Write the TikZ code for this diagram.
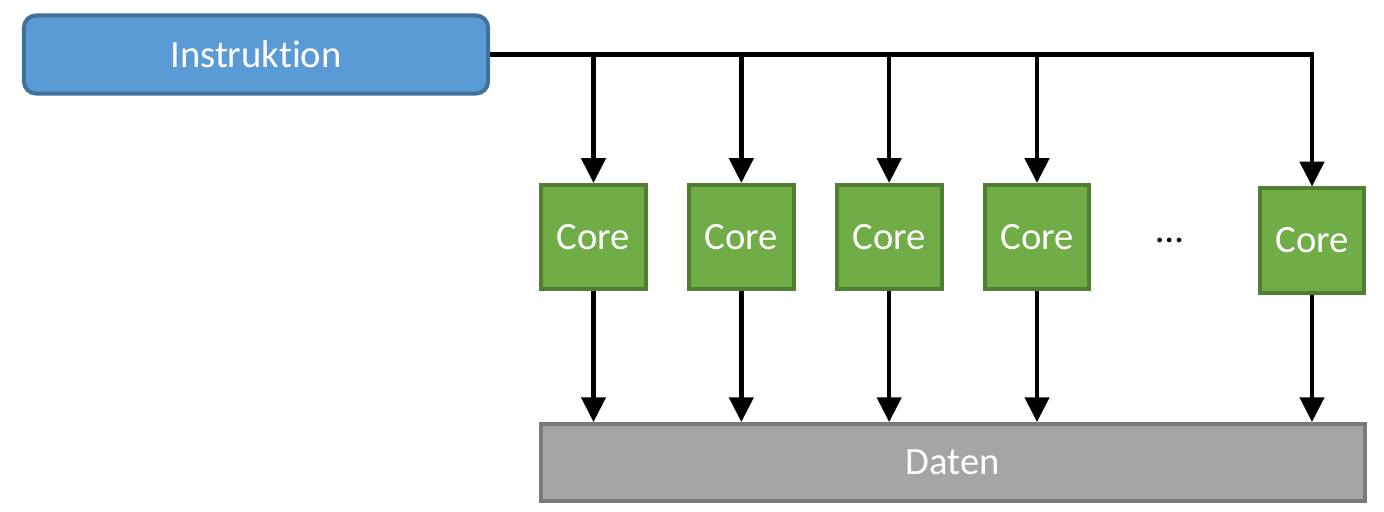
\documentclass[tikz,border=0pt]{standalone}
\usepackage{fontspec}
\setmainfont{Carlito}[Ligatures=NoCommon]
\usepackage{tikz}
\usetikzlibrary{arrows.meta, positioning}
\definecolor{instblue}{HTML}{5B9BD5}
\definecolor{instline}{HTML}{41719C}
\definecolor{coregreen}{HTML}{70AD47}
\definecolor{coreline}{HTML}{507E32}
\definecolor{datagray}{HTML}{A5A5A5}
\definecolor{dataline}{HTML}{7A7A7A}
\tikzstyle{arrow} = [line width=0.11cm,-{Triangle[width=0.6cm,length=0.62cm]}]
\tikzstyle{instr} = [rectangle, rounded corners=0.3cm,
minimum width=11.6cm,
minimum height=1.95cm,
text centered,
line width=0.1cm,
draw=instline,
fill=instblue,
text=white]
\tikzstyle{core} = [rectangle,
minimum width=2.62cm,
minimum height=2.6cm,
line width=0.1cm,
draw=coreline,
fill=coregreen,
text=white]
\tikzstyle{data} = [rectangle,
minimum width=20.6cm,
minimum height=1.92cm,
line width=0.1cm,
draw=dataline,
fill=datagray,
text=white]

\begin{document}
\begin{tikzpicture}[x=0.025cm, y=-0.025cm, node distance=0.975cm,
        font=\fontsize{27.5}{32}\selectfont]
            \useasboundingbox (0,0) rectangle (1384,512);

            \node (instr) [instr] at (256,54.5) {Instruktion};
            \node (c1) [core] at (593.5,237) {Core};
            \node (c2) [core, right=of c1] {Core};
            \node (c3) [core, right=of c2] {Core};
            \node (c4) [core, right=of c3] {Core};
            \node (dots) at (1170,240) {…};
            \node (c6) [core] at (1312,240.5) {Core};
            \node (data) [data] at (953,462.5) {Daten};

            % instruction bus
            \draw [arrow] (instr.east) -| (c6);
            \draw [arrow] (c1 |- instr.east) -- (c1);
            \draw [arrow] (c2 |- instr.east) -- (c2);
            \draw [arrow] (c3 |- instr.east) -- (c3);
            \draw [arrow] (c4 |- instr.east) -- (c4);

            % to the data
            \draw [arrow] (c1) -- (c1 |- data.north);
            \draw [arrow] (c2) -- (c2 |- data.north);
            \draw [arrow] (c3) -- (c3 |- data.north);
            \draw [arrow] (c4) -- (c4 |- data.north);
            \draw [arrow] (c6) -- (c6 |- data.north);

        \end{tikzpicture}
\end{document}
